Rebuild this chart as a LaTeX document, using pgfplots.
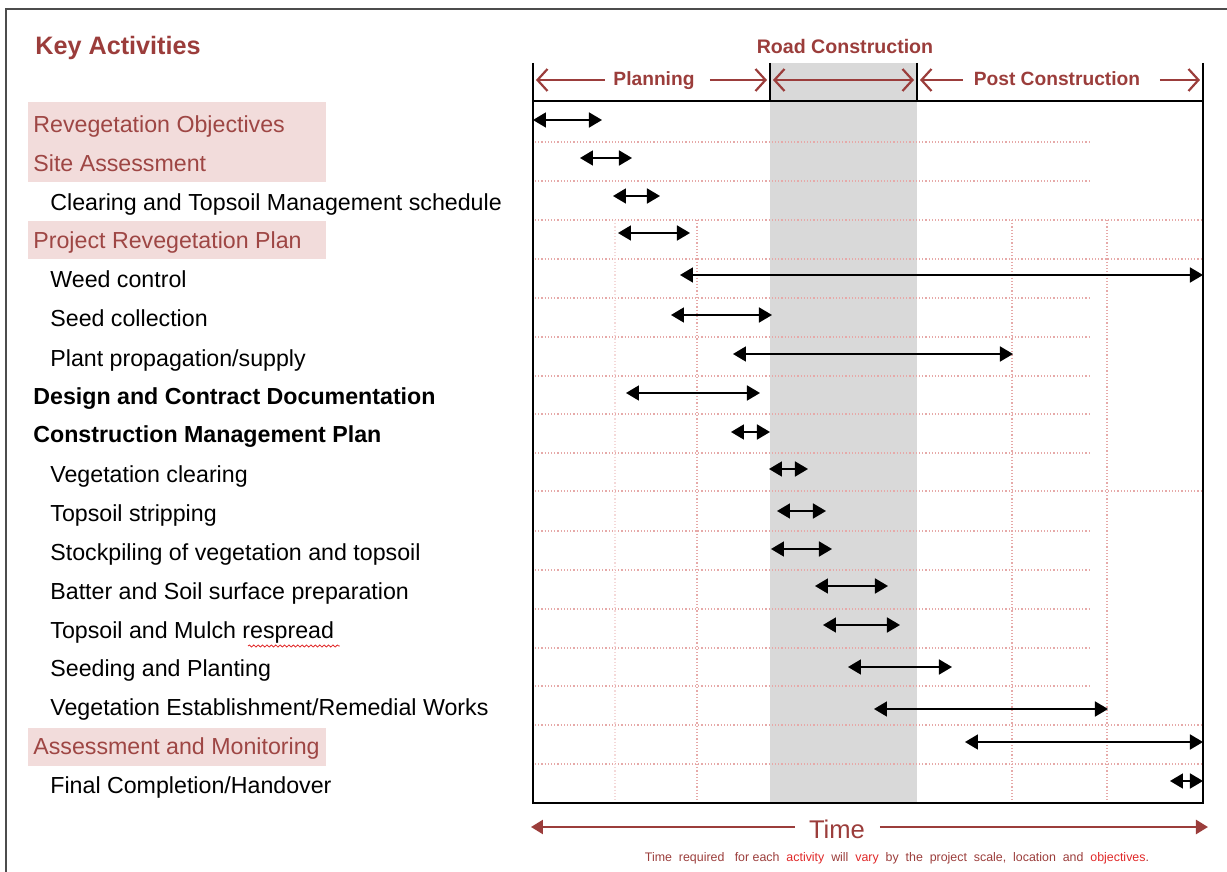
\documentclass[border=0pt]{standalone}
\usepackage{fontspec}
\setmainfont{Liberation Sans}
\usepackage{pgfplots}
\pgfplotsset{compat=1.18}
\usetikzlibrary{arrows.meta,decorations.pathmorphing}
\definecolor{darkred}{HTML}{9B3D3B}
\definecolor{rosetext}{HTML}{9E4644}
\definecolor{pinkbg}{HTML}{F2DCDB}
\definecolor{bandgray}{HTML}{D9D9D9}
\definecolor{gridpink}{HTML}{E6A9A8}
\definecolor{spellred}{HTML}{E02828}

\begin{document}
\begin{tikzpicture}[
  arr/.style={black, line width=0.9pt, mark=none,
    {Triangle[length=6.5pt,width=7.5pt]}-{Triangle[length=6.5pt,width=7.5pt]}},
  hdr/.style={darkred, line width=1.1pt, -{Straight Barb[length=5pt,width=11pt]}},
  lab/.style={anchor=base west, inner sep=0pt, font=\fontsize{11.6}{14}\selectfont},
  grd/.style={gridpink, line width=0.6pt, densely dotted},
]
\begin{axis}[
  scale only axis, width=335pt, height=351pt,
  xmin=533, xmax=1203, ymin=101, ymax=803, y dir=reverse,
  xtick=\empty, ytick=\empty,
  axis line style={line width=1.3pt, black},
  axis on top, clip=false,
]
% picture size and outer frame
\coordinate (bbTL) at (axis cs:0,0);
\coordinate (bbBR) at (axis cs:1227,872);
\draw[line width=1.2pt, black!70] (axis cs:6,872) -- (axis cs:6,9) -- (axis cs:1227,9);

% road construction band
\fill[bandgray] (axis cs:770,63) rectangle (axis cs:917,803);

% grid
\pgfplotsinvokeforeach{142,181,298,337,376,414,453,531,570,609,648,686}{
  \draw[grd] (axis cs:535,#1) -- (axis cs:1090,#1);}
\pgfplotsinvokeforeach{220,259,491,725,764}{
  \draw[grd] (axis cs:535,#1) -- (axis cs:1201,#1);}
\draw[grd, gridpink!45] (axis cs:615,220) -- (axis cs:615,802);
\pgfplotsinvokeforeach{697,1012,1107}{
  \draw[grd] (axis cs:#1,220) -- (axis cs:#1,802);}

% header
\pgfplotsinvokeforeach{533,770,917,1203}{
  \draw[black, line width=1pt] (axis cs:#1,63) -- (axis cs:#1,101);}
\node[darkred, font=\bfseries\fontsize{9.8}{12}\selectfont, anchor=base] at (axis cs:845,54) {Road  Construction};
\node[darkred, font=\bfseries\fontsize{9.6}{12}\selectfont, anchor=base] at (axis cs:654,86) {Planning};
\node[darkred, font=\bfseries\fontsize{9.6}{12}\selectfont, anchor=base] at (axis cs:1057,86) {Post Construction};
\draw[hdr] (axis cs:605,80) -- (axis cs:536,80);
\draw[hdr] (axis cs:710,80) -- (axis cs:767,80);
\draw[darkred, line width=1.1pt, {Straight Barb[length=5pt,width=11pt]}-{Straight Barb[length=5pt,width=11pt]}] (axis cs:773,80) -- (axis cs:914,80);
\draw[hdr] (axis cs:963,80) -- (axis cs:920,80);
\draw[hdr] (axis cs:1160,80) -- (axis cs:1200,80);

% activity arrows
\addplot[arr] coordinates {(533,120) (602,120)};
\addplot[arr] coordinates {(580,158) (632,158)};
\addplot[arr] coordinates {(613,196) (660,196)};
\addplot[arr] coordinates {(618,233) (690,233)};
\addplot[arr] coordinates {(680,275) (1203,275)};
\addplot[arr] coordinates {(671,315) (772,315)};
\addplot[arr] coordinates {(733,354) (1013,354)};
\addplot[arr] coordinates {(626,393) (760,393)};
\addplot[arr] coordinates {(731,432) (770,432)};
\addplot[arr] coordinates {(769,469) (808,469)};
\addplot[arr] coordinates {(777,511) (826,511)};
\addplot[arr] coordinates {(771,549) (832,549)};
\addplot[arr] coordinates {(815,586) (888,586)};
\addplot[arr] coordinates {(823,625) (900,625)};
\addplot[arr] coordinates {(848,667) (952,667)};
\addplot[arr] coordinates {(874,709) (1108,709)};
\addplot[arr] coordinates {(965,742) (1203,742)};
\addplot[arr] coordinates {(1170,781) (1203,781)};

% activity labels
\node[darkred, anchor=base west, inner sep=0pt, font=\bfseries\fontsize{12.6}{15}\selectfont] at (axis cs:35,55) {Key Activities};
\fill[pinkbg] (axis cs:28,102) rectangle (axis cs:326,182);
\fill[pinkbg] (axis cs:28,221) rectangle (axis cs:326,259);
\fill[pinkbg] (axis cs:28,728) rectangle (axis cs:326,766);
\node[lab, rosetext] at (axis cs:33,133) {Revegetation Objectives};
\node[lab, rosetext] at (axis cs:33,172) {Site Assessment};
\node[lab] at (axis cs:50,211) {Clearing and Topsoil Management schedule};
\node[lab, rosetext] at (axis cs:33,249) {Project Revegetation Plan};
\node[lab] at (axis cs:50,288) {Weed control};
\node[lab] at (axis cs:50,327) {Seed collection};
\node[lab] at (axis cs:50,366) {Plant propagation/supply};
\node[lab, font=\bfseries\fontsize{11.6}{14}\selectfont] at (axis cs:33,405) {Design and Contract Documentation};
\node[lab, font=\bfseries\fontsize{11.6}{14}\selectfont] at (axis cs:33,443) {Construction Management Plan};
\node[lab] at (axis cs:50,482) {Vegetation clearing};
\node[lab] at (axis cs:50,521) {Topsoil stripping};
\node[lab] at (axis cs:50,560) {Stockpiling of vegetation and topsoil};
\node[lab] at (axis cs:50,599) {Batter and Soil surface preparation};
\node[lab] at (axis cs:50,638) {Topsoil and Mulch respread};
\node[lab] at (axis cs:50,676) {Seeding and Planting};
\node[lab] at (axis cs:50,715) {Vegetation Establishment/Remedial Works};
\node[lab, rosetext] at (axis cs:33,754) {Assessment and Monitoring};
\node[lab] at (axis cs:50,793) {Final Completion/Handover};
\draw[spellred, line width=0.4pt, decorate, decoration={snake, amplitude=0.5pt, segment length=2.2pt}] (axis cs:248,646) -- (axis cs:340,646);

% time axis
\draw[darkred, line width=1.2pt, {Triangle[length=6pt,width=7pt]}-] (axis cs:531,827) -- (axis cs:795,827);
\draw[darkred, line width=1.2pt, -{Triangle[length=6pt,width=7pt]}] (axis cs:880,827) -- (axis cs:1208,827);
\node[darkred, font=\fontsize{12.8}{15}\selectfont] at (axis cs:837,829) {Time};
\node[darkred, font=\fontsize{6.2}{8}\selectfont] at (axis cs:897,858) {Time\ \ required\ \ \ for each\ \ \textcolor{spellred}{activity}\ \ will\ \ \textcolor{spellred}{vary}\ \ by\ \ the\ \ project\ \ scale,\ \ location\ \ and\ \ \textcolor{spellred}{objectives}.};
\end{axis}
\pgfresetboundingbox
\useasboundingbox (bbTL) rectangle (bbBR);
\end{tikzpicture}
\end{document}
